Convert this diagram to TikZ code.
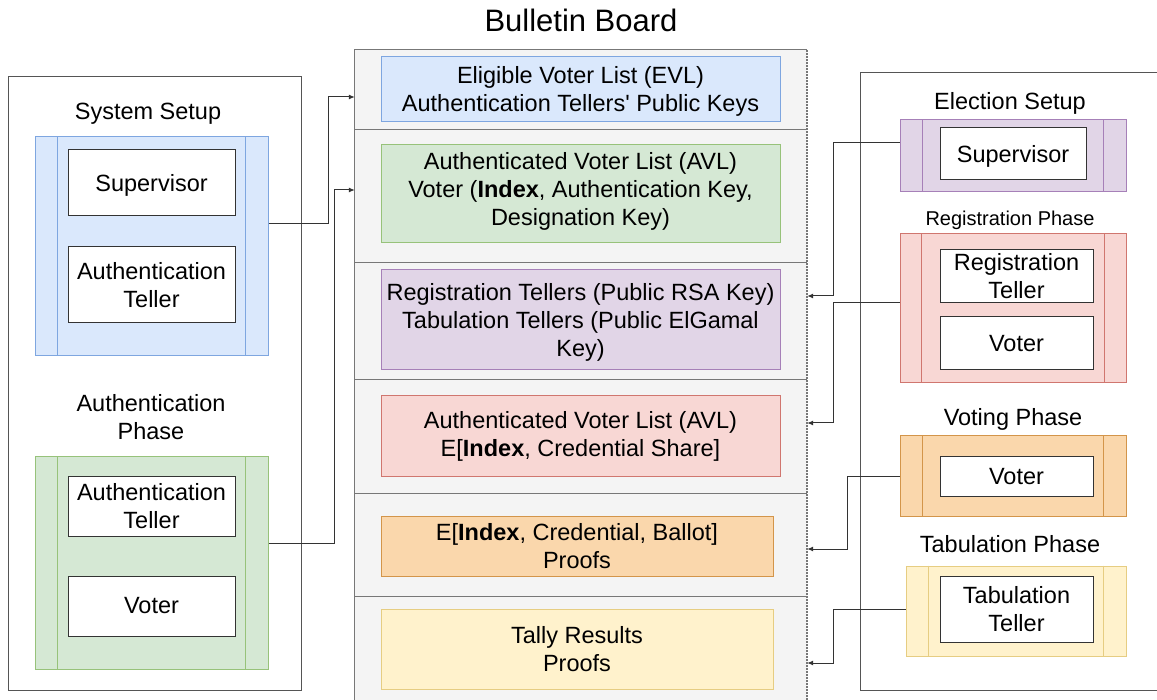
\documentclass[tikz,border=0pt]{standalone}
\usepackage{fontspec}
\setmainfont{Liberation Sans}
\usetikzlibrary{arrows.meta}
\definecolor{bbfill}{HTML}{F4F4F4}
\definecolor{bbline}{HTML}{777777}
\definecolor{outline}{HTML}{555555}
\definecolor{bluefill}{HTML}{DAE8FC}\definecolor{blueline}{HTML}{7EA6E0}
\definecolor{greenfill}{HTML}{D5E8D4}\definecolor{greenline}{HTML}{97C27A}
\definecolor{purplefill}{HTML}{E1D5E7}\definecolor{purpleline}{HTML}{A680B8}
\definecolor{redfill}{HTML}{F8D7D4}\definecolor{redline}{HTML}{D0766F}
\definecolor{orangefill}{HTML}{FAD7AC}\definecolor{orangeline}{HTML}{D3954A}
\definecolor{yellowfill}{HTML}{FFF2CC}\definecolor{yellowline}{HTML}{E6CD82}
\definecolor{conn}{HTML}{333333}
\tikzset{
  txt/.style={font=\fontsize{23.5}{28}\selectfont, align=center, inner sep=0pt, text=black},
  smalltxt/.style={font=\fontsize{20}{24}\selectfont, align=center, inner sep=0pt},
  titletxt/.style={font=\fontsize{31}{36}\selectfont, align=center, inner sep=0pt},
  colbox/.style={draw=#1line, fill=#1fill, line width=1pt, rectangle, txt},
  proc/.style={draw=#1line, fill=#1fill, line width=1pt, rectangle, inner sep=0pt},
  actor/.style={draw=conn, fill=white, line width=1pt, rectangle, txt},
  frame/.style={draw=outline, line width=1pt},
  arr/.style={draw=conn, line width=1pt, -{Latex[length=6pt,width=5pt]}},
}
\newcommand{\procbars}[3]{%
  \draw[#2line, line width=1pt] ([xshift=#3pt]#1.north west) -- ([xshift=#3pt]#1.south west);
  \draw[#2line, line width=1pt] ([xshift=-#3pt]#1.north east) -- ([xshift=-#3pt]#1.south east);}
\newcommand{\lowerit}{\rule{0pt}{21pt}}
\begin{document}
\begin{tikzpicture}[x=1pt,y=-1pt]
\clip (0,0) rectangle (1157,700);
\fill[white] (0,0) rectangle (1157,700);

% ---------- Bulletin board ----------
\node[titletxt] (bbtitle) at (581,20) {Bulletin Board};
\node[fill=bbfill, minimum width=452pt, minimum height=652pt, inner sep=0pt] (bb) at (581,376) {};
\draw[bbline, line width=1pt] (bb.south west) -- (bb.north west) -- (bb.north east);
\draw[bbline, line width=1.5pt, dashed, dash pattern=on 2pt off 1pt] (bb.north east) -- (bb.south east);
\foreach \yy in {130,263,380,493,596}
  \draw[bbline, line width=1pt] (bb.west |- 0,\yy) -- (bb.east |- 0,\yy);

\node[colbox=blue, minimum width=399pt, minimum height=65pt] (evl) at (580.5,89.5)
  {\lowerit Eligible Voter List (EVL)\\Authentication Tellers\textquotesingle{} Public Keys};
\node[colbox=green, minimum width=399pt, minimum height=98pt] (avl) at (580.5,194)
  {Authenticated Voter List (AVL)\\Voter (\textbf{Index}, Authentication Key,\\Designation Key)\rule[-9.5pt]{0pt}{1pt}};
\node[colbox=purple, minimum width=399pt, minimum height=100pt] (keys) at (580.5,320)
  {\lowerit Registration Tellers (Public RSA Key)\\Tabulation Tellers (Public ElGamal\\Key)};
\node[colbox=red, minimum width=399pt, minimum height=80pt] (cred) at (580.5,436)
  {Authenticated Voter List (AVL)\\E[\textbf{Index}, Credential Share]};
\node[colbox=orange, minimum width=392pt, minimum height=60pt] (ballot) at (577,546)
  {E[\textbf{Index}, Credential, Ballot]\\Proofs};
\node[colbox=yellow, minimum width=392pt, minimum height=80pt] (tally) at (577,649)
  {Tally Results\\Proofs};

% ---------- Left side ----------
\draw[frame] (8,77) rectangle (301,690);
\node[txt] (syssetup) at (148,113.5) {System Setup};
\node[proc=blue, minimum width=233pt, minimum height=219pt] (blueproc) at (151.5,246.5) {};
\procbars{blueproc}{blue}{23}
\node[actor, minimum width=167pt, minimum height=66pt] (sup1) at (151.5,183) {\lowerit Supervisor};
\node[actor, minimum width=167pt, minimum height=76pt] (at1) at (151.5,285) {Authentication\\Teller};

\node[txt] (authphase) at (151,417) {Authentication\\Phase};
\node[proc=green, minimum width=233pt, minimum height=212pt] (greenproc) at (151.5,563) {};
\procbars{greenproc}{green}{23}
\node[actor, minimum width=167pt, minimum height=60pt] (at2) at (151.5,506) {Authentication\\Teller};
\node[actor, minimum width=167pt, minimum height=60pt] (voter1) at (151.5,606) {Voter};

% ---------- Right side ----------
\draw[frame] (860,73) rectangle (1162,690);
\node[txt] (elecsetup) at (1010,103) {Election Setup};
\node[proc=purple, minimum width=226pt, minimum height=72pt] (purpleproc) at (1013,156) {};
\procbars{purpleproc}{purple}{23}
\node[actor, minimum width=146pt, minimum height=52pt] (sup2) at (1013,154) {\lowerit Supervisor};

\node[smalltxt] (regphase) at (1010,220) {Registration Phase};
\node[proc=red, minimum width=226pt, minimum height=149pt] (redproc) at (1013,308.5) {};
\procbars{redproc}{red}{22}
\node[actor, minimum width=153pt, minimum height=53pt] (regteller) at (1016.5,276.5) {Registration\\Teller};
\node[actor, minimum width=153pt, minimum height=53pt] (voter2) at (1016.5,343.5) {Voter};

\node[txt] (votephase) at (1013,419) {Voting Phase};
\node[proc=orange, minimum width=226pt, minimum height=80pt] (orangeproc) at (1013,476) {};
\procbars{orangeproc}{orange}{23}
\node[actor, minimum width=153pt, minimum height=39pt] (voter3) at (1016.5,476.5) {Voter};

\node[txt] (tabphase) at (1010,544) {Tabulation Phase};
\node[proc=yellow, minimum width=220pt, minimum height=90pt] (yellowproc) at (1016,611) {};
\procbars{yellowproc}{yellow}{23}
\node[actor, minimum width=153pt, minimum height=66pt] (tabteller) at (1016.5,609) {Tabulation\\Teller};

% ---------- Connectors ----------
\draw[arr] ([yshift=22.5pt]blueproc.east) -- (328,224) |- (bb.west |- 0,97);
\draw[arr] ([yshift=20pt]greenproc.east) -- (334,543) |- (bb.west |- 0,190);
\draw[arr] ([yshift=13pt]purpleproc.west) -- (833,143) |- (bb.east |- 0,296);
\draw[arr] ([yshift=5.5pt]redproc.west) -- (833,303) |- (bb.east |- 0,423);
\draw[arr] (orangeproc.west) -- (847,476) |- (bb.east |- 0,549);
\draw[arr] ([yshift=2pt]yellowproc.west) -- (833,609) |- (bb.east |- 0,663);
\end{tikzpicture}
\end{document}
